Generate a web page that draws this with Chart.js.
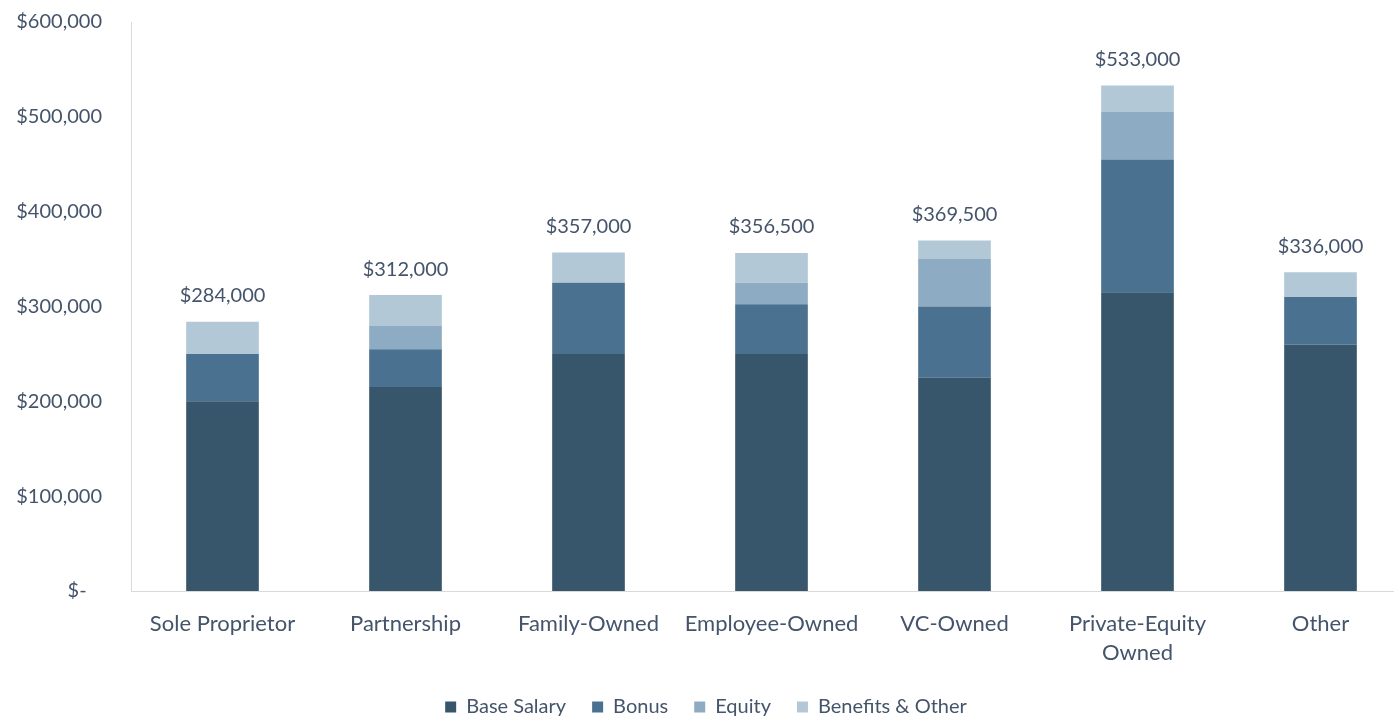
<!DOCTYPE html>
<html>
<head>
<meta charset="utf-8">
<script src="https://cdn.jsdelivr.net/npm/chart.js@4"></script>
<style>
  html, body { margin: 0; padding: 0; background: #fff; overflow: hidden; }
  #wrap { width: 1420px; height: 719px; }
</style>
</head>
<body>
<div id="wrap"><canvas id="comp"></canvas></div>
<script>
const categories = ['Sole Proprietor', 'Partnership', 'Family-Owned', 'Employee-Owned', 'VC-Owned', ['Private-Equity', 'Owned'], 'Other'];
const baseSalary = [200000, 215000, 250000, 250000, 225000, 315000, 260000];
const bonus      = [50000, 40000, 75000, 52500, 75000, 140000, 50000];
const equity     = [0, 25000, 0, 22500, 50000, 50000, 0];
const benefits   = [34000, 32000, 32000, 31500, 19500, 28000, 26000];
const yTicks     = [0, 100000, 200000, 300000, 400000, 500000, 600000];

const textColor = '#44546a';
const fontFamily = 'Lato, "Open Sans", sans-serif';

function money(v) {
  if (v === 0) return '$-   ';
  return '$' + v.toLocaleString('en-US');
}

// totals written above each stack
const totalsPlugin = {
  id: 'totals',
  afterDatasetsDraw(chart) {
    const ctx = chart.ctx;
    const y = chart.scales.y;
    const meta = chart.getDatasetMeta(0);
    ctx.save();
    ctx.font = '20px ' + fontFamily;
    ctx.fillStyle = textColor;
    ctx.textAlign = 'center';
    ctx.textBaseline = 'middle';
    categories.forEach((c, i) => {
      const total = baseSalary[i] + bonus[i] + equity[i] + benefits[i];
      ctx.fillText(money(total), meta.data[i].x, y.getPixelForValue(total) - 26);
    });
    ctx.restore();
  }
};

new Chart(document.getElementById('comp'), {
  type: 'bar',
  data: {
    labels: categories,
    datasets: [
      { label: 'Base Salary', data: baseSalary, backgroundColor: '#37556b' },
      { label: 'Bonus', data: bonus, backgroundColor: '#4a7190' },
      { label: 'Equity', data: equity, backgroundColor: '#8dabc3' },
      { label: 'Benefits & Other', data: benefits, backgroundColor: '#b3c8d7' }
    ]
  },
  options: {
    responsive: true,
    maintainAspectRatio: false,
    animation: false,
    layout: { padding: { top: 22, left: 0, right: 8, bottom: -8 } },
    datasets: { bar: { categoryPercentage: 1, barPercentage: 0.397 } },
    plugins: {
      tooltip: { enabled: false },
      legend: {
        position: 'bottom',
        labels: {
          color: textColor,
          font: { family: fontFamily, size: 20 },
          boxWidth: 11,
          boxHeight: 11,
          padding: 26
        }
      }
    },
    scales: {
      x: {
        stacked: true,
        grid: { display: false },
        border: { display: true, color: '#d9d9d9' },
        ticks: {
          color: textColor,
          font: { family: fontFamily, size: 22, lineHeight: 1.32 },
          padding: 10,
          maxRotation: 0
        },
        afterFit(scale) { scale.height = 80; }
      },
      y: {
        stacked: true,
        min: 0,
        max: 600000,
        grid: { display: false, drawTicks: false },
        border: { display: true, color: '#d9d9d9' },
        afterBuildTicks(scale) { scale.ticks = yTicks.map(v => ({ value: v })); },
        ticks: {
          color: textColor,
          font: { family: fontFamily, size: 20 },
          padding: 29,
          callback: v => money(v)
        },
        afterFit(scale) {
          scale.width = 131;
          // tick padding should only push labels left, not shrink the plot
          scale.paddingTop = 0;
          scale.paddingBottom = 0;
        }
      }
    }
  },
  plugins: [totalsPlugin]
});
</script>
</body>
</html>
